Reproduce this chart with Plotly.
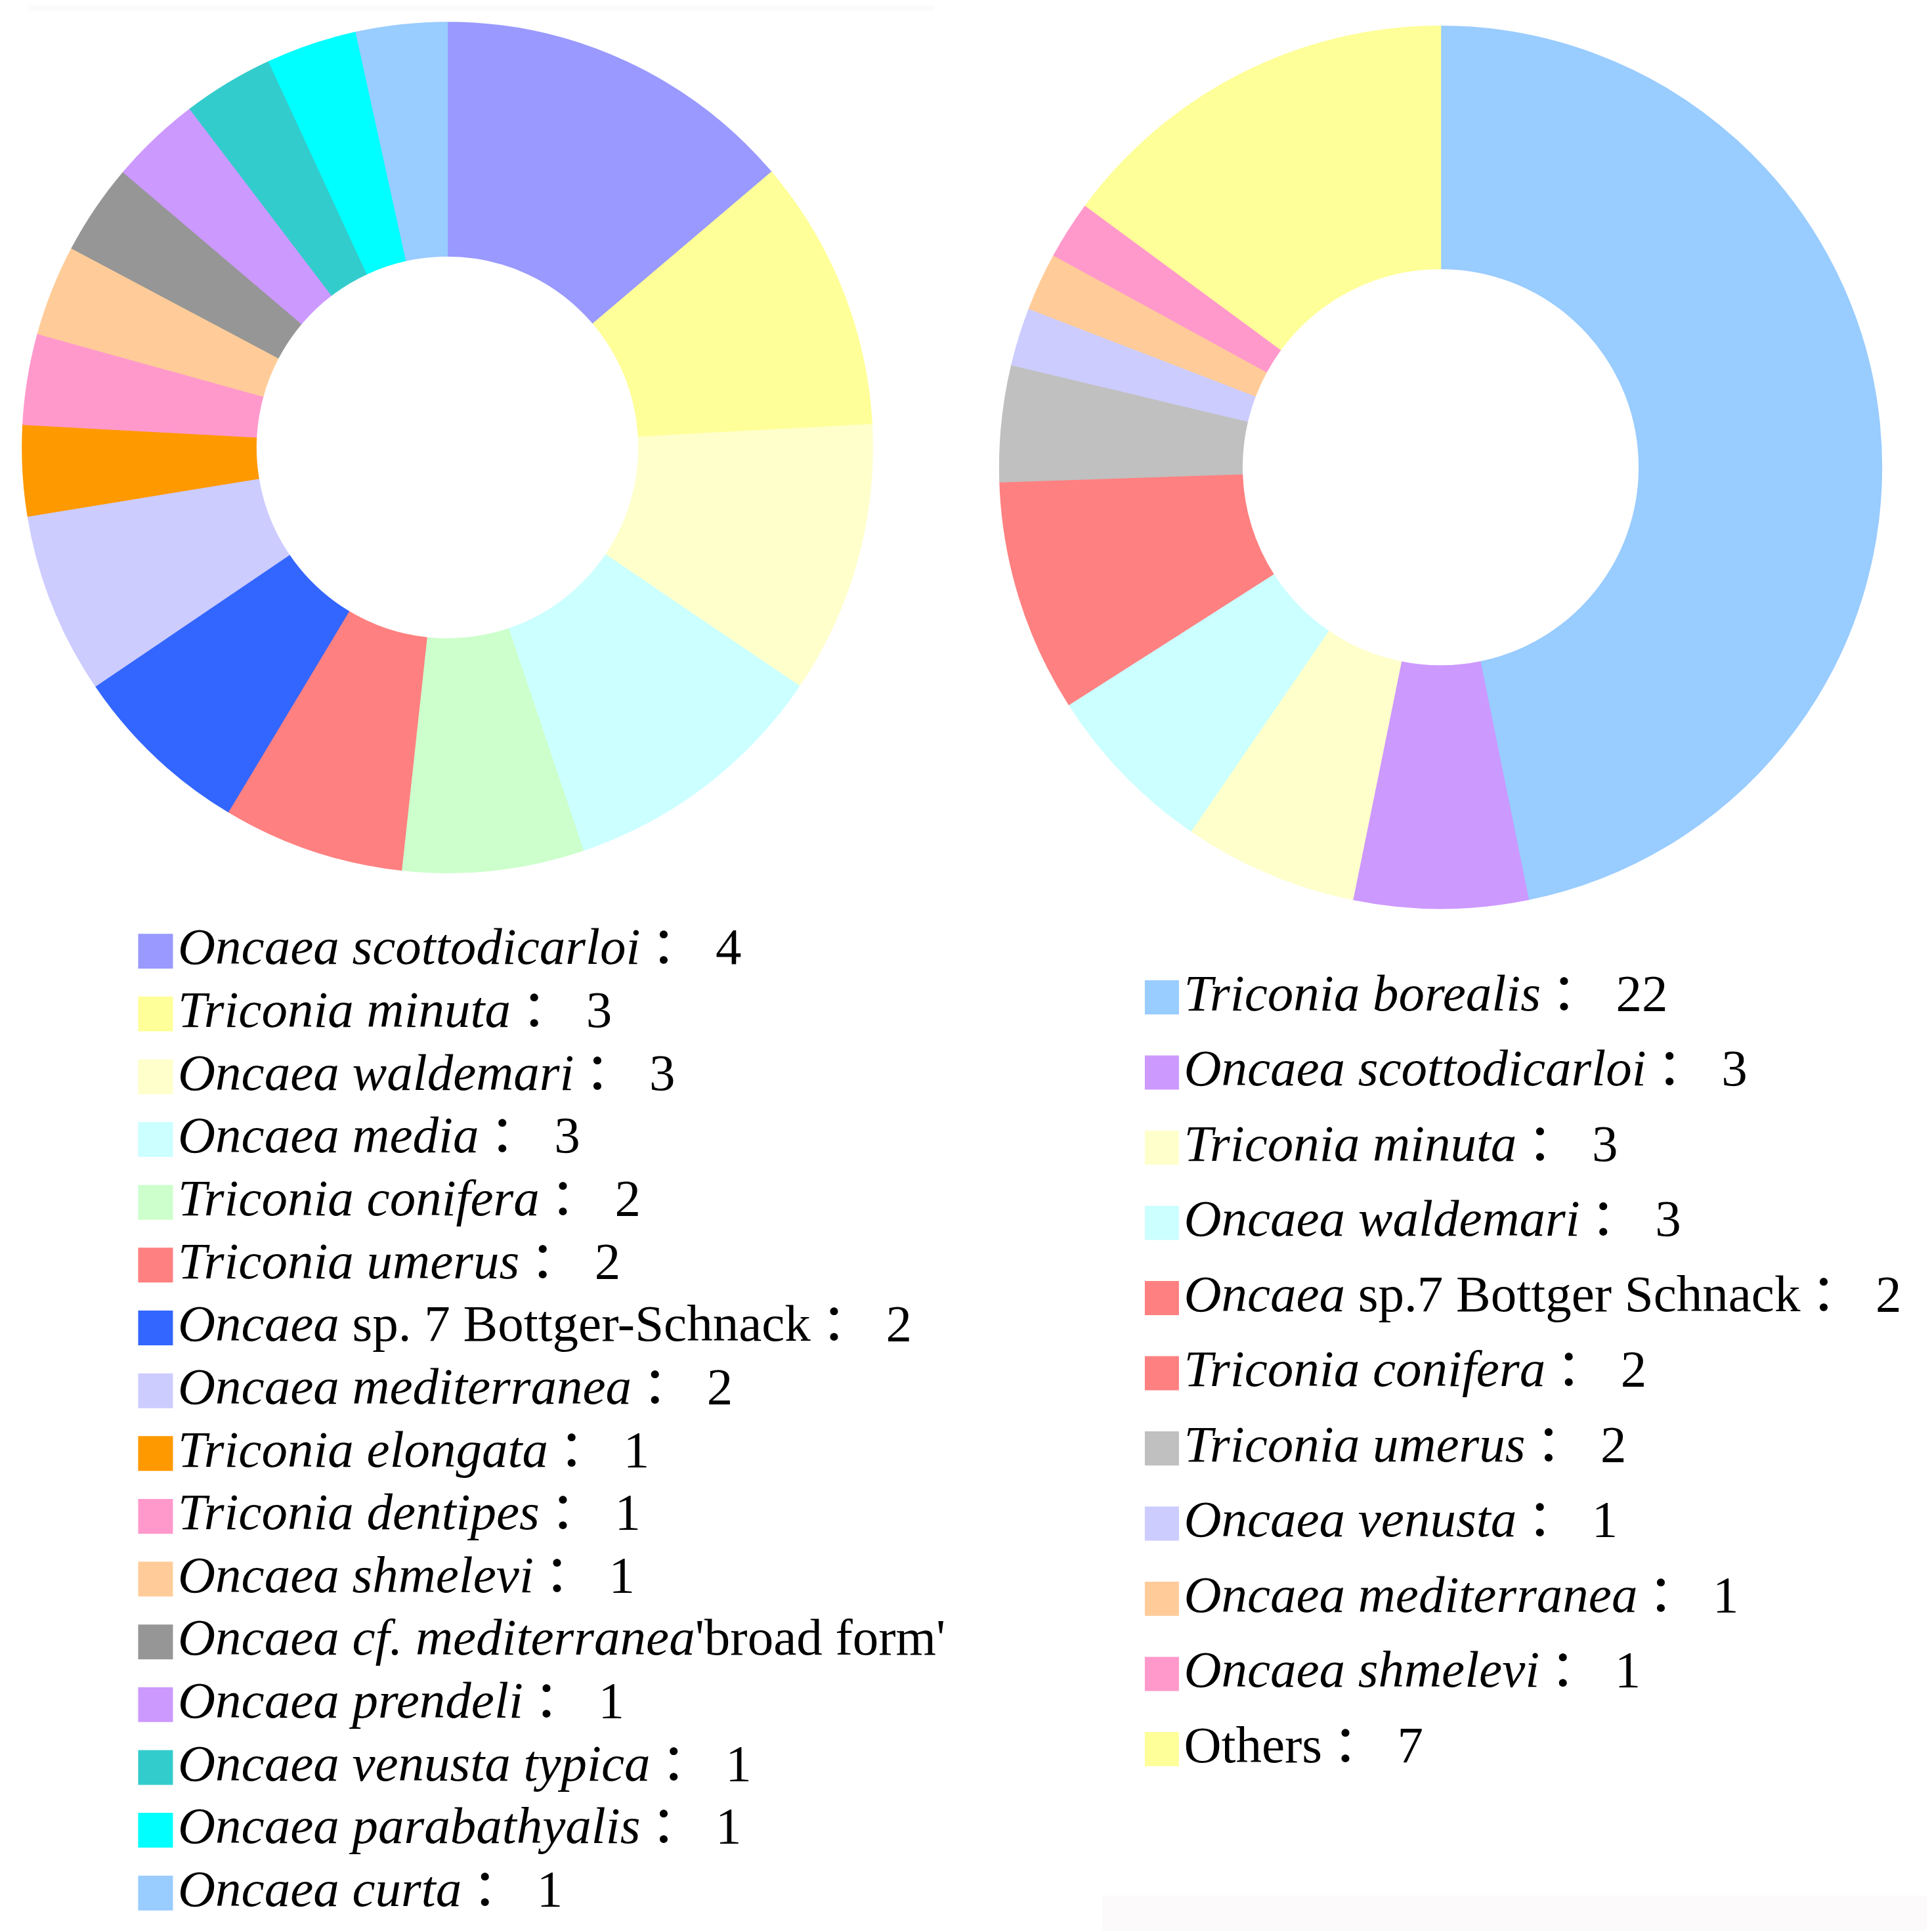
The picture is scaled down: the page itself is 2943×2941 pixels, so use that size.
import plotly.graph_objects as go

# left ring: species counts
left_names = ["<i>Oncaea scottodicarloi</i>", "<i>Triconia minuta</i>", "<i>Oncaea waldemari</i>",
              "<i>Oncaea media</i>", "<i>Triconia conifera</i>", "<i>Triconia umerus</i>",
              "<i>Oncaea</i> sp. 7 Bottger-Schnack", "<i>Oncaea mediterranea</i>",
              "<i>Triconia elongata</i>", "<i>Triconia dentipes</i>", "<i>Oncaea shmelevi</i>",
              "<i>Oncaea cf. mediterranea</i>'broad form'", "<i>Oncaea prendeli</i>",
              "<i>Oncaea venusta typica</i>", "<i>Oncaea parabathyalis</i>", "<i>Oncaea curta</i>"]
left_values = [4, 3, 3, 3, 2, 2, 2, 2, 1, 1, 1, 1, 1, 1, 1, 1]
left_colors = ["#9999FF", "#FFFF99", "#FFFFCC", "#CCFFFF", "#CCFFCC", "#FF8080", "#3366FF", "#CCCCFF",
               "#FF9900", "#FF99CC", "#FFCC99", "#969696", "#CC99FF", "#33CCCC", "#00FFFF", "#99CCFF"]

# right ring
right_names = ["<i>Triconia borealis</i>", "<i>Oncaea scottodicarloi</i>", "<i>Triconia minuta</i>",
               "<i>Oncaea waldemari</i>", "<i>Oncaea</i> sp.7 Bottger Schnack", "<i>Triconia conifera</i>",
               "<i>Triconia umerus</i>", "<i>Oncaea venusta</i>", "<i>Oncaea mediterranea</i>",
               "<i>Oncaea shmelevi</i>", "Others"]
right_values = [22, 3, 3, 3, 2, 2, 2, 1, 1, 1, 7]
right_colors = ["#99CCFF", "#CC99FF", "#FFFFCC", "#CCFFFF", "#FF8080", "#FF8080", "#C0C0C0", "#CCCCFF",
                "#FFCC99", "#FF99CC", "#FFFF99"]

FONT = "Liberation Serif"
W, H = 2943, 2941
COLON = "<span style=\"font-family:'Noto Sans CJK SC'\">：</span>"


def labels(names, values):
    return [f"{n}\u2009{COLON}\u00a0{v}" for n, v in zip(names, values)]


fig = go.Figure()

fig.add_trace(go.Pie(labels=labels(left_names, left_values), values=left_values,
                     marker=dict(colors=left_colors, line=dict(width=1.5, color=left_colors)),
                     hole=0.45, sort=False, direction="clockwise", rotation=0,
                     textinfo="none", hoverinfo="skip", showlegend=False,
                     domain=dict(x=[0.0088, 0.4489], y=[0.5508, 0.9912])))

fig.add_trace(go.Pie(labels=labels(right_names, right_values), values=right_values,
                     marker=dict(colors=right_colors, line=dict(width=1.5, color=right_colors)),
                     hole=0.45, sort=False, direction="clockwise", rotation=0,
                     textinfo="none", hoverinfo="skip", showlegend=False,
                     domain=dict(x=[0.5146, 0.9713], y=[0.5323, 0.9892])))

# legends drawn as square markers + text, one row per category
fig.add_trace(go.Scatter(x=[0] * len(left_values), y=list(range(len(left_values))),
                         mode="markers+text", text=labels(left_names, left_values),
                         textposition="middle right",
                         textfont=dict(family=FONT, size=79, color="black"),
                         marker=dict(symbol="square", size=53, color=left_colors, line=dict(width=0)),
                         hoverinfo="skip", showlegend=False, xaxis="x", yaxis="y"))

fig.add_trace(go.Scatter(x=[0] * len(right_values), y=list(range(len(right_values))),
                         mode="markers+text", text=labels(right_names, right_values),
                         textposition="middle right",
                         textfont=dict(family=FONT, size=79, color="black"),
                         marker=dict(symbol="square", size=52, color=right_colors, line=dict(width=0)),
                         hoverinfo="skip", showlegend=False, xaxis="x2", yaxis="y2"))

hidden = dict(visible=False, showgrid=False, zeroline=False, fixedrange=True)

fig.update_layout(
    width=W, height=H,
    margin=dict(l=0, r=0, t=0, b=0),
    paper_bgcolor="white", plot_bgcolor="rgba(0,0,0,0)",
    font=dict(family=FONT, size=79, color="black"),
    xaxis=dict(domain=[0, 0.4875], range=[-229, 1206], **hidden),
    yaxis=dict(domain=[0.0061, 0.5264], range=[15.5, -0.5], **hidden),
    xaxis2=dict(domain=[0.5776, 1.0], range=[-62, 1181], anchor="y2", **hidden),
    yaxis2=dict(domain=[0.0774, 0.5057], range=[10.5, -0.5], anchor="x2", **hidden),
    shapes=[
        dict(type="rect", xref="paper", yref="paper", x0=0.012, x1=0.481, y0=0.997, y1=1.0,
             fillcolor="#FCFAFA", line=dict(width=0), layer="below"),
        dict(type="rect", xref="paper", yref="paper", x0=0.568, x1=1.0, y0=0.002, y1=0.021,
             fillcolor="#FCFAFA", line=dict(width=0), layer="below"),
    ],
)

fig.write_html("out.html")
